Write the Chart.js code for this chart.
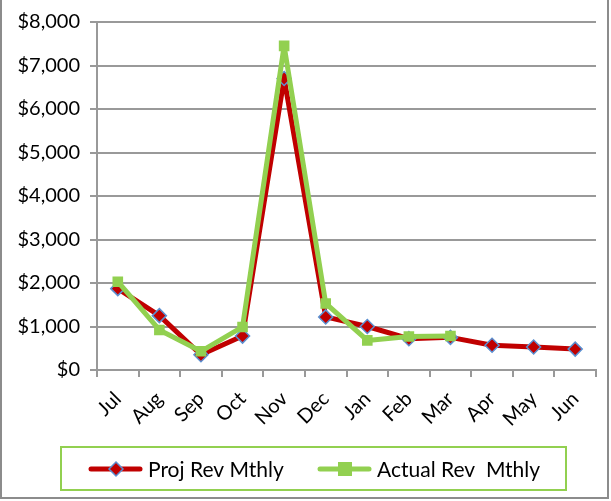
<!DOCTYPE html>
<html>
<head>
<meta charset="utf-8">
<script src="https://cdn.jsdelivr.net/npm/chart.js@4/dist/chart.umd.min.js"></script>
<style>
  body { margin: 0; background: #fff; }
  #wrap { width: 611px; height: 501px; }
</style>
</head>
<body>
<div id="wrap"><canvas id="rev_chart" width="611" height="501"></canvas></div>
<script>
const months = ['Jul', 'Aug', 'Sep', 'Oct', 'Nov', 'Dec', 'Jan', 'Feb', 'Mar', 'Apr', 'May', 'Jun'];
const projRev = [1870, 1250, 350, 780, 6700, 1220, 1000, 720, 750, 570, 530, 480];
const actualRev = [2030, 920, 430, 990, 7450, 1530, 680, 770, 780, null, null, null];
const yTicks = [0, 1000, 2000, 3000, 4000, 5000, 6000, 7000, 8000];

const FONT = 'Lato, "Open Sans", sans-serif';
const AXIS_GREY = '#999999';

// frame round the whole chart and the boxed legend under it
const framePlugin = {
  id: 'frame',
  afterDraw(chart) {
    const ctx = chart.ctx;
    ctx.save();
    ctx.strokeStyle = '#8c8c8c';
    ctx.lineWidth = 2;
    ctx.strokeRect(1, -2, 607, 500);

    // legend box
    ctx.strokeStyle = '#92D050';
    ctx.lineWidth = 2;
    ctx.strokeRect(61, 447, 505, 43);

    const cy = 469;
    const items = [
      { x: 91, ds: chart.data.datasets[0] },
      { x: 320, ds: chart.data.datasets[1] }
    ];
    items.forEach(it => {
      const ds = it.ds;
      ctx.strokeStyle = ds.borderColor;
      ctx.lineWidth = 5;
      ctx.lineCap = 'round';
      ctx.beginPath();
      ctx.moveTo(it.x, cy);
      ctx.lineTo(it.x + 49, cy);
      ctx.stroke();
      const mx = it.x + 25;
      ctx.fillStyle = ds.pointBackgroundColor;
      if (ds.pointStyle === 'rectRot') {
        ctx.beginPath();
        ctx.moveTo(mx, cy - 7);
        ctx.lineTo(mx + 7, cy);
        ctx.lineTo(mx, cy + 7);
        ctx.lineTo(mx - 7, cy);
        ctx.closePath();
        ctx.fill();
        ctx.strokeStyle = ds.pointBorderColor;
        ctx.lineWidth = 1.5;
        ctx.stroke();
      } else {
        ctx.fillRect(mx - 7, cy - 7, 14, 14);
      }
      ctx.fillStyle = '#000';
      ctx.font = '21px ' + FONT;
      ctx.textBaseline = 'middle';
      ctx.fillText(ds.label, it.x + 57, cy + 1);
    });
    ctx.restore();
  }
};

chartIt();

function chartIt() {
  const ctx = document.getElementById('rev_chart').getContext('2d');

  new Chart(ctx, {
    type: 'line',
    data: {
      labels: months,
      datasets: [{
        label: 'Proj Rev Mthly',
        data: projRev,
        borderColor: '#C00000',
        backgroundColor: '#C00000',
        borderWidth: 5,
        borderJoinStyle: 'round',
        pointStyle: 'rectRot',
        pointRadius: 7,
        pointHoverRadius: 7,
        pointBackgroundColor: '#C00000',
        pointBorderColor: '#5B8FD0',
        pointBorderWidth: 1.5,
        order: 2
      }, {
        label: 'Actual Rev  Mthly',
        data: actualRev,
        borderColor: '#92D050',
        backgroundColor: '#92D050',
        borderWidth: 5,
        borderJoinStyle: 'round',
        pointStyle: 'rect',
        pointRadius: 7.5,
        pointHoverRadius: 7.5,
        pointBackgroundColor: '#92D050',
        pointBorderColor: '#92D050',
        pointBorderWidth: 0,
        spanGaps: false,
        order: 1
      }]
    },
    options: {
      responsive: false,
      animation: false,
      layout: { padding: { left: 7, top: 20, right: 15, bottom: 0 } },
      plugins: { legend: { display: false }, tooltip: { enabled: false } },
      scales: {
        x: {
          offset: true,
          grid: {
            offset: true,
            drawOnChartArea: false,
            drawTicks: true,
            tickLength: 7,
            color: AXIS_GREY,
            lineWidth: 2
          },
          border: { color: AXIS_GREY, width: 2 },
          ticks: {
            color: '#000',
            font: { family: FONT, size: 20 },
            minRotation: 45,
            maxRotation: 45,
            padding: 10
          },
          afterFit(scale) { scale.height = 131; }
        },
        y: {
          min: 0,
          max: 8000,
          afterBuildTicks(scale) { scale.ticks = yTicks.map(v => ({ value: v })); },
          grid: {
            color: AXIS_GREY,
            lineWidth: 2,
            tickLength: 7
          },
          border: { color: AXIS_GREY, width: 2 },
          ticks: {
            color: '#000',
            font: { family: FONT, size: 20 },
            padding: 10,
            callback: v => '$' + v.toLocaleString('en-US')
          },
          afterFit(scale) { scale.width = 90; }
        }
      }
    },
    plugins: [framePlugin]
  });
}
</script>
</body>
</html>
